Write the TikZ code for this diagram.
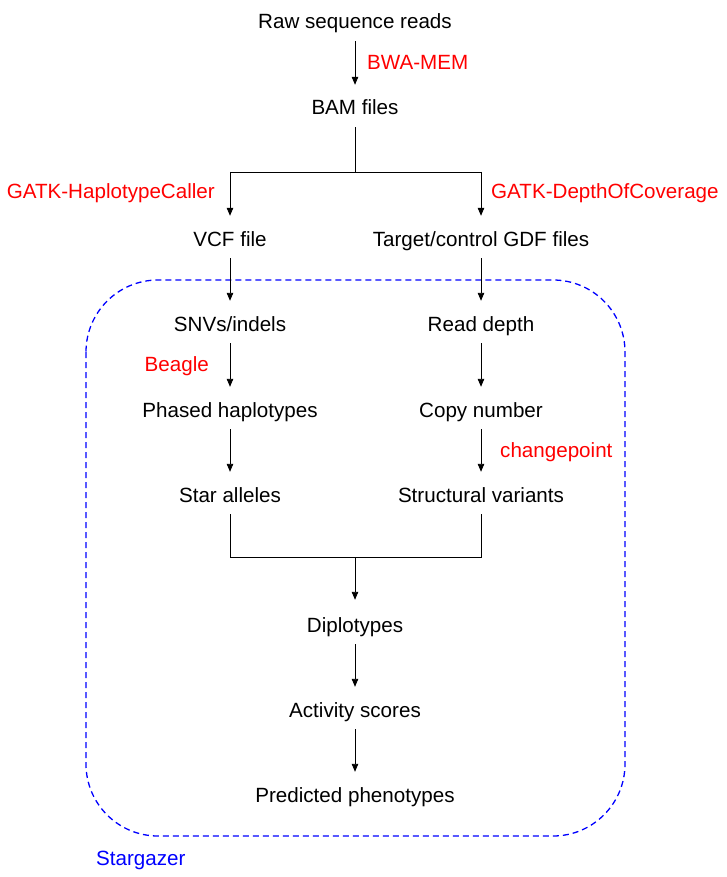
\documentclass[tikz,border=0pt]{standalone}
\usepackage{fontspec}
\setmainfont{Liberation Sans}
\usetikzlibrary{arrows.meta}
\begin{document}
\begin{tikzpicture}[x=1pt,y=-1pt,
  box/.style={font=\fontsize{20.6}{24}\selectfont, text height=15pt, text depth=4pt, inner xsep=2pt, inner ysep=8pt, anchor=center},
  tool/.style={font=\fontsize{20.6}{24}\selectfont, text=red, inner sep=0pt, text height=15pt, text depth=4pt},
  arr/.style={draw=black, line width=0.9pt, -{Triangle[length=8pt,width=6.5pt]}, shorten >=7pt},
  ln/.style={draw=black, line width=0.9pt}]
\useasboundingbox (0,0) rectangle (726,877);
\draw[blue, line width=1.3pt, dash pattern=on 6pt off 4pt, rounded corners=72pt] (86,280) rectangle (625,836);
\node[box] (raw) at (355,23.5) {Raw sequence reads};
\node[box] (bam) at (355,109.5) {BAM files};
\node[box] (vcf) at (230,240.5) {VCF file};
\node[box] (gdf) at (481,240.5) {Target/control GDF files};
\node[box] (snv) at (230,325.5) {SNVs/indels};
\node[box] (rd) at (481,325.5) {Read depth};
\node[box] (ph) at (230,411.5) {Phased haplotypes};
\node[box] (cn) at (481,411.5) {Copy number};
\node[box] (star) at (230,496.5) {Star alleles};
\node[box] (sv) at (481,496.5) {Structural variants};
\node[box] (dip) at (355,626.5) {Diplotypes};
\node[box] (act) at (355,711.5) {Activity scores};
\node[box] (pred) at (355,796.5) {Predicted phenotypes};
\node[tool, anchor=west] (bwa) at (367,64.5) {BWA-MEM};
\node[tool, anchor=east] (gatkh) at (215,193.5) {GATK-HaplotypeCaller};
\node[tool, anchor=west] (gatkd) at (491,193.5) {GATK-DepthOfCoverage};
\node[tool, anchor=east] (beagle) at (209,365.5) {Beagle};
\node[tool, anchor=west] (cp) at (500,452) {changepoint};
\node[tool, anchor=west, text=blue] (sg) at (96,859.5) {Stargazer};
\coordinate (split) at (355,172);
\coordinate (splitL) at (230,172);
\coordinate (splitR) at (481,172);
\coordinate (joinL) at (230,557);
\coordinate (joinR) at (481,557);
\coordinate (join) at (355,557);
\draw[arr] (raw) -- (bam);
\draw[ln] (bam) -- (split);
\draw[ln] (splitL) -- (splitR);
\draw[arr] (splitL) -- (vcf);
\draw[arr] (splitR) -- (gdf);
\draw[arr] (vcf) -- (snv);
\draw[arr] (gdf) -- (rd);
\draw[arr] (snv) -- (ph);
\draw[arr] (rd) -- (cn);
\draw[arr] (ph) -- (star);
\draw[arr] (cn) -- (sv);
\draw[ln] (star) -- (joinL) -- (joinR) -- (sv);
\draw[arr, shorten >=9pt] (join) -- (dip);
\draw[arr] (dip) -- (act);
\draw[arr] (act) -- (pred);
\end{tikzpicture}
\end{document}
